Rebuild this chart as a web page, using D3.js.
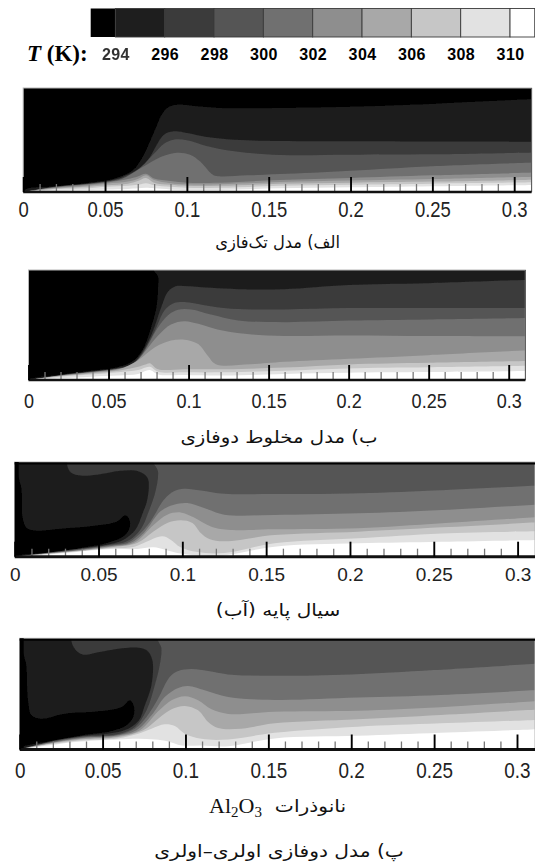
<!DOCTYPE html>
<html><head><meta charset="utf-8">
<style>html,body{margin:0;padding:0;background:#fff}svg{display:block}</style>
<script src="https://cdn.jsdelivr.net/npm/d3@7/dist/d3.min.js"></script>
</head><body>
<svg id="c" width="535" height="862"></svg>
<script>
const levels = [294,296,298,300,302,304,306,308,310];
const greys = ["#000000","#1e1e1e","#3b3b3b","#555555","#707070","#8e8e8e","#a8a8a8","#c6c6c6","#e2e2e2","#ffffff"];
const xTicks = [0,0.05,0.1,0.15,0.2,0.25,0.3];
const xMinor = [0.01,0.02,0.03,0.04,0.06,0.07,0.08,0.09,0.11,0.12,0.13,0.14,0.16,0.17,0.18,0.19,0.21,0.22,0.23,0.24,0.26,0.27,0.28,0.29];
const xLabels = ["0","0.05","0.1","0.15","0.2","0.25","0.3"];
const captions = ["الف) مدل تک‌فازی","ب) مدل مخلوط دوفازی","سیال پایه (آب)"];
const captionNano = "نانوذرات";
const captionLast = "پ) مدل دوفازی اولری–اولری";

// contour outlines per panel, one per level: [x (m), height fraction]
const contoursA = [
 [[0,0],[.002,.032],[.018,.054],[.039,.087],[.051,.112],[.059,.144],[.067,.208],[.073,.337],[.080,.577],[.085,.753],[.089,.817],[.094,.840],[.104,.827],[.120,.808],[.157,.808],[.2,.82],[.25,.847],[.32,.9]],
 [[0,0],[.018,.048],[.039,.08],[.051,.104],[.059,.132],[.063,.160],[.068,.199],[.076,.304],[.082,.465],[.086,.551],[.092,.583],[.100,.567],[.112,.529],[.129,.503],[.157,.49],[.2,.487],[.25,.485],[.32,.484]],
 [[0,0],[.018,.046],[.039,.077],[.051,.1],[.059,.125],[.065,.167],[.071,.224],[.080,.369],[.086,.465],[.092,.503],[.100,.497],[.112,.442],[.129,.391],[.157,.356],[.2,.358],[.25,.362],[.32,.382]],
 [[0,0],[.018,.044],[.039,.074],[.051,.096],[.059,.118],[.064,.154],[.073,.240],[.084,.337],[.094,.378],[.102,.359],[.108,.295],[.115,.176],[.118,.154],[.137,.160],[.157,.172],[.2,.205],[.25,.248],[.32,.288]],
 [[0,0],[.018,.04],[.039,.07],[.051,.09],[.064,.125],[.070,.15],[.075,.175],[.080,.13],[.09,.105],[.10,.09],[.12,.09],[.157,.115],[.2,.135],[.25,.16],[.32,.19]],
 [[0,0],[.018,.035],[.039,.06],[.051,.08],[.064,.10],[.070,.125],[.075,.16],[.080,.115],[.09,.085],[.10,.075],[.12,.075],[.157,.095],[.2,.11],[.25,.125],[.32,.15]],
 [[0,0],[.018,.03],[.039,.05],[.051,.065],[.064,.08],[.070,.105],[.075,.135],[.080,.09],[.09,.07],[.10,.06],[.12,.06],[.157,.08],[.2,.09],[.25,.10],[.32,.12]],
 [[0,0],[.018,.025],[.039,.035],[.051,.05],[.064,.06],[.070,.07],[.075,.085],[.080,.065],[.09,.05],[.10,.04],[.12,.04],[.157,.06],[.2,.07],[.25,.08],[.32,.095]],
 [[0,0],[.018,.012],[.039,.02],[.051,.025],[.064,.03],[.070,.035],[.075,.04],[.080,.035],[.09,.025],[.10,.02],[.12,.02],[.157,.035],[.2,.045],[.25,.055],[.32,.07]]
];
const contoursB = [
 [[0,0],[.002,.015],[.019,.046],[.039,.083],[.056,.119],[.064,.159],[.071,.266],[.076,.45],[.080,.664],[.081,.847],[.081,.939],[.078,1.02],[.32,1.02]],
 [[0,0],[.019,.042],[.039,.077],[.056,.11],[.064,.14],[.0695,.22],[.077,.419],[.083,.664],[.087,.801],[.092,.853],[.0996,.853],[.114,.838],[.131,.826],[.160,.826],[.2,.864],[.25,.88],[.32,.915]],
 [[0,0],[.019,.04],[.039,.074],[.056,.105],[.064,.135],[.0705,.229],[.079,.45],[.085,.633],[.090,.694],[.0975,.709],[.110,.679],[.1266,.648],[.160,.642],[.2,.654],[.25,.654],[.32,.654]],
 [[0,0],[.019,.039],[.039,.072],[.056,.102],[.064,.13],[.0705,.22],[.081,.48],[.087,.587],[.0934,.639],[.1017,.642],[.114,.596],[.131,.541],[.160,.526],[.2,.54],[.25,.55],[.32,.565]],
 [[0,0],[.019,.038],[.039,.07],[.056,.10],[.064,.125],[.0695,.199],[.081,.404],[.089,.505],[.0975,.535],[.106,.511],[.118,.46],[.135,.42],[.160,.40],[.2,.405],[.25,.40],[.32,.398]],
 [[0,0],[.019,.036],[.039,.066],[.056,.095],[.0685,.18],[.079,.297],[.089,.358],[.0975,.367],[.106,.327],[.112,.22],[.117,.144],[.139,.144],[.160,.165],[.2,.193],[.25,.226],[.32,.275]],
 [[0,0],[.019,.034],[.039,.06],[.056,.085],[.0685,.12],[.073,.14],[.0757,.153],[.081,.098],[.0975,.098],[.122,.098],[.160,.113],[.2,.142],[.25,.157],[.32,.175]],
 [[0,0],[.019,.03],[.039,.05],[.056,.07],[.0685,.09],[.0757,.12],[.081,.075],[.0975,.07],[.122,.07],[.16,.085],[.2,.105],[.25,.115],[.32,.13]],
 [[0,0],[.019,.015],[.039,.03],[.056,.04],[.0685,.055],[.0757,.09],[.081,.05],[.0975,.045],[.122,.04],[.16,.055],[.2,.066],[.25,.072],[.32,.082]]
];
const contoursC = [
 [[0,0],[.001,.011],[.017,.039],[.037,.085],[.055,.144],[.065,.215],[.0685,.303],[.0685,.391],[.066,.437],[.061,.373],[.047,.327],[.027,.296],[.013,.275],[.0072,.303],[.0048,.408],[.0042,.69],[.0036,1.02],[.32,1.02]],
 [[0,0],[.017,.036],[.037,.08],[.057,.134],[.065,.18],[.072,.285],[.076,.444],[.0793,.62],[.0793,.831],[.074,.901],[.063,.908],[.049,.866],[.038,.859],[.033,.90],[.032,1.02],[.32,1.02]],
 [[0,0],[.017,.034],[.037,.075],[.057,.125],[.067,.162],[.075,.285],[.080,.479],[.084,.69],[.0855,.90],[.083,1.02],[.32,1.02]],
 [[0,0],[.017,.032],[.037,.07],[.057,.118],[.067,.144],[.073,.215],[.081,.373],[.089,.602],[.095,.69],[.101,.718],[.111,.70],[.125,.665],[.155,.662],[.2,.667],[.25,.70],[.32,.76]],
 [[0,0],[.017,.03],[.037,.066],[.057,.11],[.069,.144],[.077,.25],[.087,.479],[.095,.549],[.103,.567],[.113,.514],[.125,.444],[.155,.44],[.205,.458],[.255,.493],[.32,.56]],
 [[0,0],[.017,.028],[.037,.062],[.057,.104],[.071,.144],[.083,.338],[.091,.444],[.099,.468],[.107,.415],[.117,.32],[.127,.285],[.155,.289],[.205,.30],[.255,.352],[.32,.43]],
 [[0,0],[.017,.026],[.037,.058],[.057,.098],[.073,.144],[.083,.268],[.091,.356],[.099,.384],[.106,.356],[.111,.25],[.116,.187],[.125,.162],[.155,.229],[.205,.264],[.255,.31],[.32,.37]],
 [[0,0],[.017,.024],[.037,.054],[.057,.09],[.070,.099],[.077,.144],[.088,.215],[.093,.18],[.099,.099],[.109,.049],[.125,.039],[.155,.141],[.205,.194],[.255,.246],[.32,.27]],
 [[0,0],[.017,.02],[.037,.05],[.057,.08],[.073,.081],[.083,.099],[.097,.039],[.109,.014],[.125,.014],[.155,.106],[.205,.141],[.255,.158],[.32,.18]]
];
const contoursD = [
 [[0,0],[.0012,.021],[.017,.072],[.037,.127],[.055,.163],[.0645,.217],[.0685,.292],[.069,.383],[.0665,.443],[.0614,.383],[.047,.343],[.027,.322],[.013,.277],[.0072,.307],[.0052,.428],[.0042,.729],[.0036,1.02],[.32,1.02]],
 [[0,0],[.017,.068],[.037,.12],[.057,.151],[.0655,.187],[.072,.262],[.0755,.398],[.0795,.578],[.080,.804],[.0765,.895],[.0655,.916],[.049,.88],[.038,.855],[.033,.91],[.032,1.02],[.32,1.02]],
 [[0,0],[.017,.064],[.037,.114],[.0594,.139],[.0695,.202],[.0765,.352],[.0815,.578],[.0845,.759],[.0855,.91],[.0835,1.02],[.32,1.02]],
 [[0,0],[.017,.06],[.037,.108],[.059,.13],[.0695,.187],[.0765,.292],[.0835,.458],[.0906,.654],[.0956,.705],[.1036,.723],[.1137,.705],[.1257,.675],[.1538,.663],[.2,.675],[.25,.714],[.32,.78]],
 [[0,0],[.017,.056],[.037,.102],[.059,.125],[.0705,.172],[.0795,.307],[.0875,.473],[.0956,.554],[.1016,.572],[.1116,.533],[.1257,.473],[.1538,.446],[.204,.467],[.254,.491],[.32,.54]],
 [[0,0],[.017,.052],[.037,.096],[.059,.118],[.0725,.172],[.0835,.343],[.0916,.443],[.0996,.479],[.1076,.443],[.1157,.361],[.1257,.32],[.1538,.34],[.204,.349],[.254,.38],[.32,.445]],
 [[0,0],[.017,.048],[.037,.09],[.059,.11],[.0745,.172],[.0835,.277],[.0916,.361],[.0996,.392],[.1076,.352],[.1137,.247],[.1197,.193],[.1337,.187],[.1538,.235],[.204,.271],[.254,.31],[.32,.365]],
 [[0,0],[.017,.044],[.037,.082],[.059,.10],[.0715,.142],[.0795,.187],[.0875,.226],[.0936,.211],[.0996,.142],[.1096,.096],[.1257,.09],[.1538,.15],[.204,.205],[.254,.235],[.32,.27]],
 [[0,0],[.017,.036],[.037,.072],[.059,.09],[.0715,.096],[.0815,.09],[.0896,.072],[.0976,.036],[.1096,.036],[.1257,.03],[.1538,.10],[.204,.123],[.254,.15],[.32,.185]]
];

const panels = [
 {c:contoursA,x0:23.2,x3:514.2,right:531.6,top:88,bottom:192,lab:209.6,size:22,sx:.84,heavy:false},
 {c:contoursB,x0:28.5,x3:508.7,right:525.4,top:270,bottom:380,lab:400.5,size:21,sx:.86,heavy:false},
 {c:contoursC,x0:14.7,x3:517.6,right:535,top:462,bottom:556.7,lab:574.4,size:19,sx:1,heavy:true},
 {c:contoursD,x0:19.7,x3:517,right:535,top:638.3,bottom:749.5,lab:770,size:22.5,sx:.84,heavy:true}
];

const svg = d3.select("#c");
const defs = svg.append("defs");
defs.append("filter").attr("id","soft").attr("x","-2%").attr("y","-5%").attr("width","104%").attr("height","110%")
  .append("feGaussianBlur").attr("stdDeviation",0.7);
defs.append("filter").attr("id","softText").append("feGaussianBlur").attr("stdDeviation",0.35);

// colour bar
const cbScale = d3.scaleLinear().domain([293,311]).range([90.7,534.7]);
const cbEdges = [293,...levels,311];
svg.selectAll("rect.cell").data(greys).join("rect").attr("class","cell")
  .attr("x",(d,i)=>cbScale(cbEdges[i])).attr("y",8.5)
  .attr("width",(d,i)=>cbScale(cbEdges[i+1])-cbScale(cbEdges[i])).attr("height",28.5)
  .attr("fill",d=>d).attr("stroke",(d,i)=>i==0?"none":"#3a3a3a").attr("stroke-width",0.9);
svg.append("text").attr("x",27).attr("y",61).attr("font-family","'Liberation Serif',serif").attr("font-weight","bold")
  .attr("font-size",23).attr("fill","#000")
  .call(t=>{t.append("tspan").attr("font-style","italic").text("T");t.append("tspan").text(" (K):");});
svg.selectAll("text.lv").data(levels).join("text").attr("class","lv")
  .attr("x",d=>cbScale(d)+0.5).attr("y",60).attr("text-anchor","middle")
  .attr("font-family","'Liberation Sans',sans-serif").attr("font-weight","bold").attr("font-size",16)
  .attr("letter-spacing",0.4).attr("fill",(d,i)=>i==0?"#333":"#000")
  .attr("filter",(d,i)=>i==0?"url(#softText)":null).text(d=>d);

const line = d3.line().curve(d3.curveCatmullRom.alpha(0.5));
panels.forEach((p,pi)=>{
  const x = d3.scaleLinear().domain([0,0.3]).range([p.x0,p.x3]);
  const y = d3.scaleLinear().domain([0,1]).range([p.bottom,p.top]);
  const g = svg.append("g");
  const cid = "clip"+pi;
  defs.append("clipPath").attr("id",cid).append("rect")
    .attr("x",p.x0).attr("y",p.top).attr("width",p.right-p.x0).attr("height",p.bottom-p.top);
  const clipG = g.append("g").attr("clip-path",`url(#${cid})`);
  const blurG = clipG.append("g").attr("filter","url(#soft)");
  blurG.append("rect").attr("x",p.x0-5).attr("y",p.top-5).attr("width",p.right-p.x0+10).attr("height",p.bottom-p.top+10).attr("fill",greys[0]);
  p.c.forEach((pts,i)=>{
    const d = line(pts.map(q=>[x(q[0]),y(q[1])]));
    const end = x(pts[pts.length-1][0]);
    blurG.append("path").attr("d",d+`L${end},${y(-0.1)}L${x(0)},${y(-0.1)}Z`).attr("fill",greys[i+1]);
  });
  // frame
  g.append("rect").attr("x",p.x0).attr("y",p.top).attr("width",p.right-p.x0).attr("height",p.bottom-p.top)
    .attr("fill","none").attr("stroke","#b5b5b5").attr("stroke-width",1);
  if(p.heavy){
    g.append("line").attr("x1",p.x0).attr("x2",p.right).attr("y1",p.top+1.5).attr("y2",p.top+1.5).attr("stroke","#000").attr("stroke-width",2);
    g.append("line").attr("x1",p.x0+2).attr("x2",p.x0+2).attr("y1",p.top).attr("y2",p.bottom).attr("stroke","#000").attr("stroke-width",4);
  } else {
    g.append("line").attr("x1",p.right).attr("x2",p.right).attr("y1",p.top).attr("y2",p.bottom).attr("stroke","#555").attr("stroke-width",1);
  }
  // axes
  const minor = g.append("g").attr("transform",`translate(0,${p.bottom})`)
    .call(d3.axisBottom(x).tickValues(xMinor).tickSize(-8).tickFormat(""));
  minor.select(".domain").remove();
  minor.selectAll("line").attr("stroke","#777").attr("stroke-width",1.3);
  const major = g.append("g").attr("transform",`translate(0,${p.bottom})`)
    .call(d3.axisBottom(x).tickValues(xTicks).tickSize(-15).tickFormat((d,i)=>xLabels[i]));
  major.select(".domain").attr("d",`M${p.x0},0H${p.right}`).attr("stroke","#111").attr("stroke-width",p.heavy?3:2.5);
  major.selectAll("line").attr("stroke","#000").attr("stroke-width",1.9);
  major.selectAll("text").attr("font-family","'Liberation Sans',sans-serif").attr("font-size",p.size).attr("fill","#222")
    .attr("dominant-baseline","central").attr("y",0).attr("dy",0)
    .attr("transform",`translate(0,${p.lab-p.bottom}) scale(${p.sx},1)`);
});

// captions
const capFont = "'DejaVu Sans',sans-serif";
const captionBox = (sel,cx,cy,sx)=>sel.attr("transform",`translate(${cx},${cy}) scale(${sx},1)`)
  .attr("text-anchor","middle").attr("direction","rtl").attr("dominant-baseline","central")
  .attr("font-family",capFont).attr("font-size",17).attr("fill","#111");
const capCx = [277.6,279,278], capCy = [242,437,610], capSx = [.96,1.16,1.18];
captions.forEach((t,i)=>svg.append("text").call(captionBox,capCx[i],capCy[i],capSx[i]).text(t));
svg.append("text").call(captionBox,310.5,806.5,1.19).text(captionNano);
svg.append("text").attr("x",209).attr("y",813).attr("font-family","'Liberation Serif',serif").attr("font-size",22).attr("fill","#111")
  .call(t=>{
    t.append("tspan").text("Al");
    t.append("tspan").attr("dy",4).attr("font-size",15).text("2");
    t.append("tspan").attr("dy",-4).text("O");
    t.append("tspan").attr("dy",4).attr("font-size",15).text("3");
  });
svg.append("text").call(captionBox,279,851.5,1.19).text(captionLast);
</script>
</body></html>
